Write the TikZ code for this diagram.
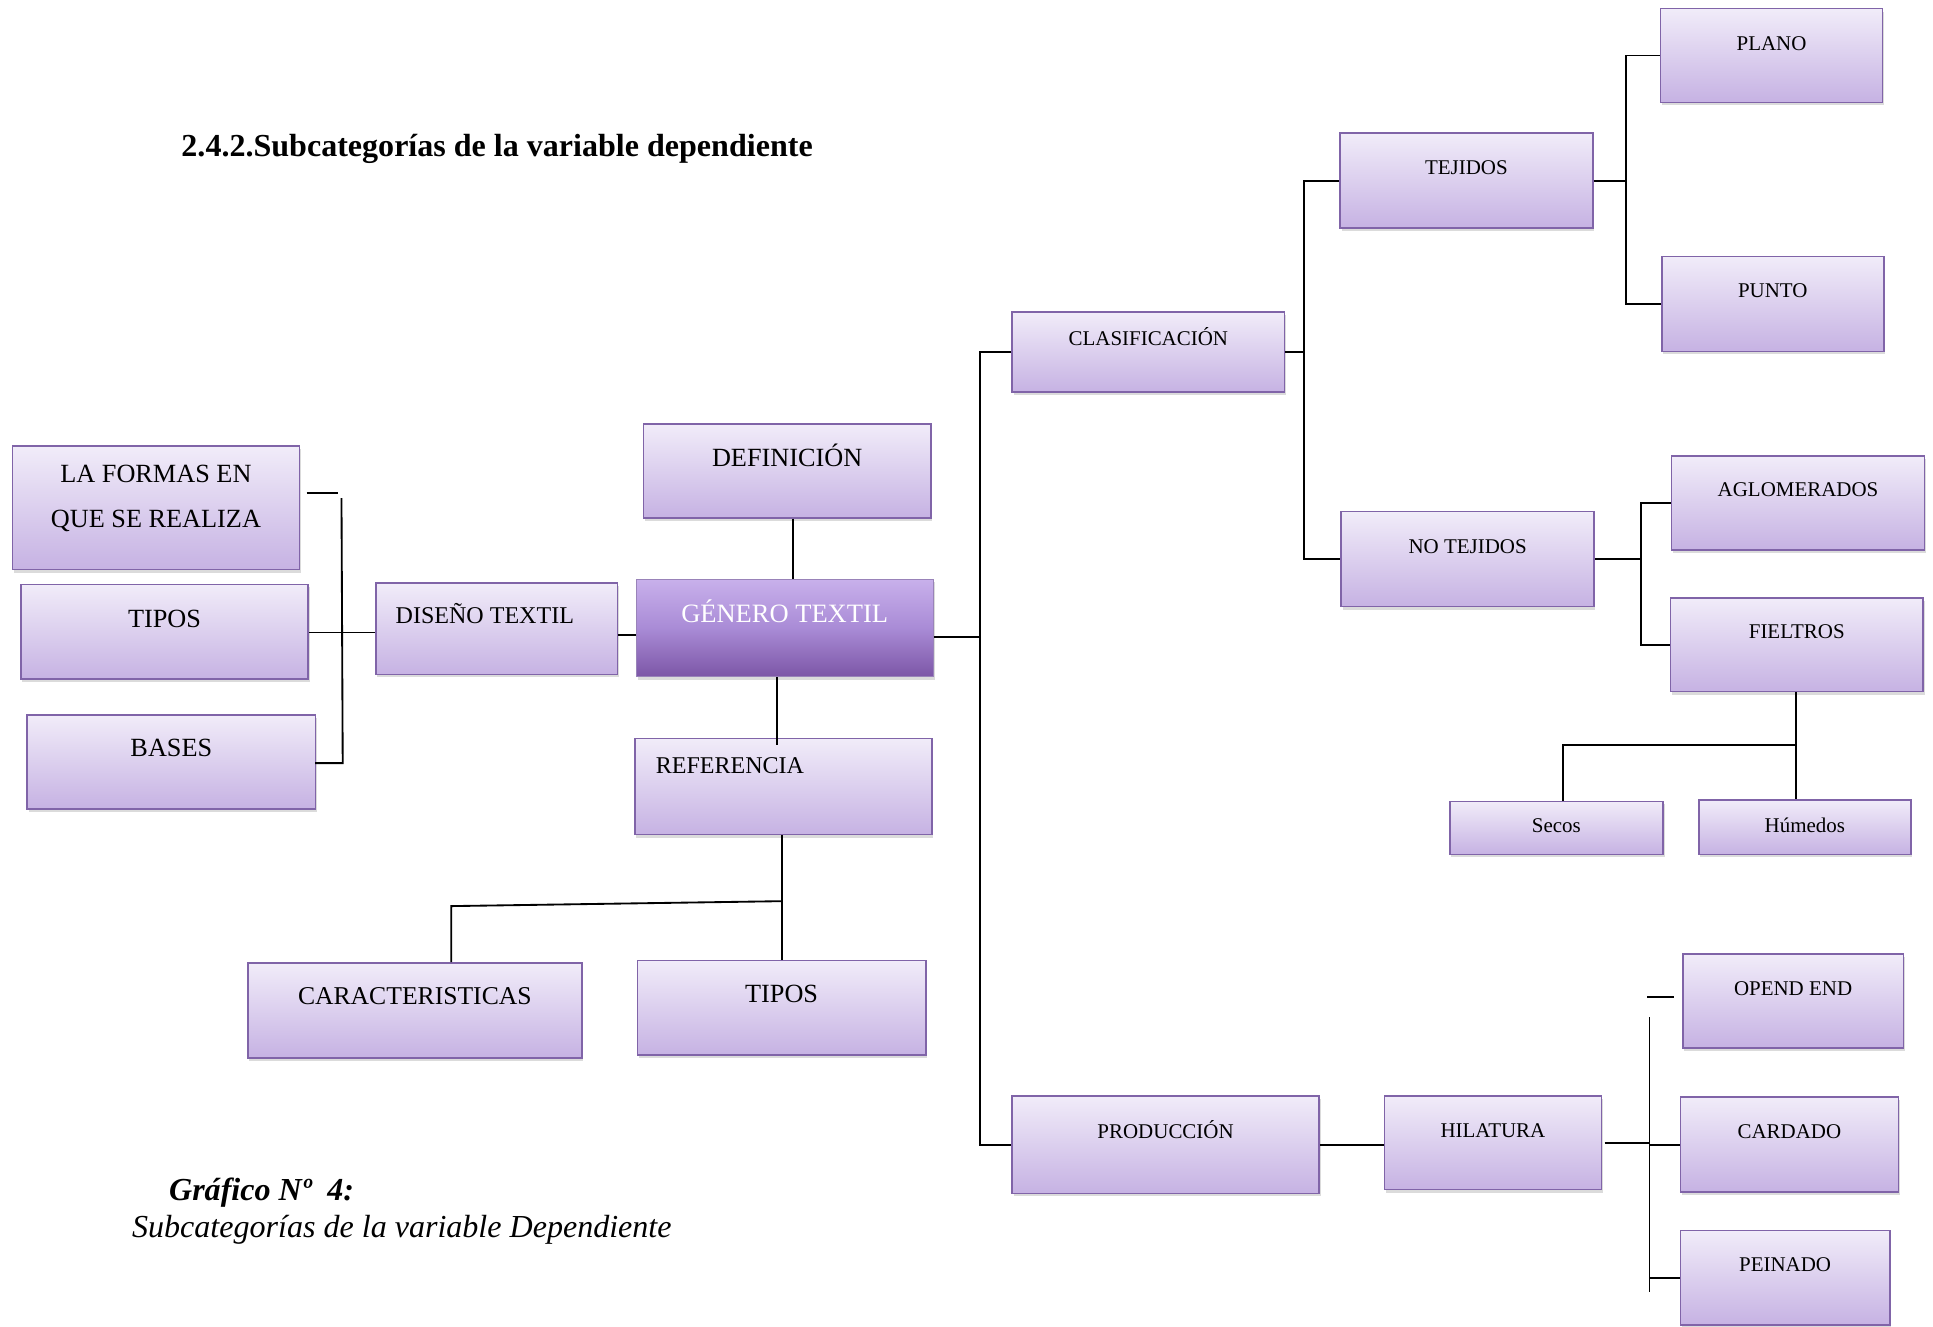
\documentclass[tikz,border=0pt]{standalone}
\usepackage{fontspec}
\setmainfont{Liberation Serif}
\usetikzlibrary{shadows,calc}
\definecolor{boxtop}{HTML}{F1ECF9}
\definecolor{boxbot}{HTML}{C6B2E3}
\definecolor{boxedge}{HTML}{8064A8}
\definecolor{maintop}{HTML}{C8B0EB}
\definecolor{mainmid}{HTML}{A98BD6}
\definecolor{mainbot}{HTML}{7C56A6}
\tikzset{
  pbox/.style={draw=boxedge, line width=1.3pt, top color=boxtop, bottom color=boxbot,
    inner sep=0pt, drop shadow={shadow xshift=1.2pt, shadow yshift=-2.5pt, opacity=0.28}},
  mainbox/.style={draw=boxedge!80, line width=1pt, top color=maintop, bottom color=mainbot,
    middle color=mainmid, text=white, inner sep=0pt,
    drop shadow={shadow xshift=1.2pt, shadow yshift=-2.5pt, opacity=0.28}},
  conn/.style={draw=black, line width=1.5pt}
}
% #1 style #2 name #3 x1 #4 y1 #5 x2 #6 y2 #7 text centre y #8 font size #9 text
\newcommand{\mybx}[9]{%
  \pgfmathsetmacro\bxw{#5-#3}%
  \pgfmathsetmacro\bxcx{(#3+#5)/2}%
  \pgfmathsetmacro\bxcy{(#4+#6)/2}%
  \pgfmathsetmacro\bxb{#7+0.33*#8}%
  \pgfmathsetmacro\bxth{\bxb-#4}%
  \pgfmathsetmacro\bxtd{#6-\bxb}%
  \node[#1, minimum width=\bxw pt, text height=\bxth pt, text depth=\bxtd pt,
        font=\fontsize{#8}{#8}\selectfont] (#2) at (\bxcx,\bxcy) {#9};%
}
\begin{document}
\begin{tikzpicture}[x=1pt,y=-1pt]
\useasboundingbox (0,0) rectangle (1568,1076);
\fill[white] (0,0) rectangle (1568,1076);

% title and caption
\node[anchor=base west, inner sep=0pt, font=\bfseries\fontsize{26}{26}\selectfont] (title) at (147,127) {2.4.2.Subcategorías de la variable dependiente};
\node[anchor=base west, inner sep=0pt, font=\bfseries\itshape\fontsize{26}{26}\selectfont] (cap1) at (137,974) {Gráfico Nº~ 4:};
\node[anchor=base west, inner sep=0pt, font=\itshape\fontsize{26}{26}\selectfont] (cap2) at (107,1004) {Subcategorías de la variable Dependiente};

% boxes
\mybx{pbox}{plano}{1347}{7}{1527}{83}{35}{17}{PLANO}
\mybx{pbox}{tej}{1087}{108}{1292}{185}{136}{17}{TEJIDOS}
\mybx{pbox}{punto}{1348}{208}{1528}{285}{236}{17}{PUNTO}
\mybx{pbox}{clas}{821}{253}{1042}{318}{275}{17}{CLASIFICACIÓN}
\mybx{pbox}{notej}{1088}{415}{1293}{492}{443}{17}{NO TEJIDOS}
\mybx{pbox}{aglo}{1356}{370}{1561}{446}{397}{17}{AGLOMERADOS}
\mybx{pbox}{fiel}{1355}{485}{1560}{561}{512}{17}{FIELTROS}
\mybx{pbox}{secos}{1176}{650}{1349}{693}{670}{17}{Secos}
\mybx{pbox}{hum}{1378}{649}{1550}{693}{670}{17}{Húmedos}
\mybx{pbox}{opend}{1365}{774}{1544}{850}{802}{17}{OPEND END}
\mybx{pbox}{card}{1363}{890}{1540}{967}{918}{17}{CARDADO}
\mybx{pbox}{pein}{1363}{998}{1533}{1075}{1026}{17}{PEINADO}
\mybx{pbox}{hila}{1123}{889}{1299}{965}{917}{17}{HILATURA}
\mybx{pbox}{prod}{821}{889}{1070}{968}{918}{17}{PRODUCCIÓN}
\mybx{pbox}{defi}{522}{344}{755}{420}{371}{21.3}{DEFINICIÓN}
\mybx{mainbox}{gen}{516}{470}{757}{549}{498}{21.5}{GÉNERO TEXTIL}
\mybx{pbox}{dis}{305}{473}{501}{547}{499}{19.5}{\makebox[196pt][l]{\hspace{16pt}DISEÑO TEXTIL}}
\mybx{pbox}{ref}{515}{599}{756}{677}{621}{19.5}{\makebox[241pt][l]{\hspace{17pt}REFERENCIA}}
\mybx{pbox}{carac}{201}{781}{472}{858}{808}{20.8}{CARACTERISTICAS}
\mybx{pbox}{tipb}{517}{779}{751}{856}{806}{21.3}{TIPOS}
\mybx{pbox}{lafor}{10}{362}{243}{462}{384}{21.3}{\begin{tabular}[t]{@{}c@{}}LA FORMAS EN\\[15.7pt]QUE SE REALIZA\end{tabular}}
\mybx{pbox}{tipl}{17}{474}{250}{551}{502}{21.3}{TIPOS}
\mybx{pbox}{bases}{22}{580}{256}{656}{607}{21.3}{BASES}

% junction coordinates
\coordinate (jLt) at (277,404);
\coordinate (jLb) at (278,619);
\coordinate (jR) at (634,731);
\coordinate (jC) at (366,735);
\coordinate (jF) at (1457,604);
\coordinate (jS) at (1268,604);
\coordinate (jHt) at (1338,825);
\coordinate (jHb) at (1338,1048);
\coordinate (oe1) at (1336,809);
\coordinate (oe2) at (1358,809);

% left group
\draw[conn] ([xshift=5pt]lafor.east |- 0,400) -- (274,400);
\draw[conn] (jLt) -- (jLb) -- ([xshift=-1pt]bases.east |- jLb);
\draw[conn] (tipl.east |- 0,513) -- (dis.west |- 0,513);
\draw[conn] (dis.east |- 0,515) -- (gen.west |- 0,515);

% centre
\draw[conn] (defi.south -| 643,0) -- (gen.north -| 643,0);
\draw[conn] (gen.south -| 630,0) -- ([yshift=-6pt]ref.north -| 630,0);
\draw[conn] (ref.south -| jR) -- (tipb.north -| jR);
\draw[conn] (jR) -- (jC) -- (carac.north -| jC);

% main bus
\draw[conn] (gen.east |- 0,517) -- (795,517);
\draw[conn] (clas.west) -- (clas.west -| 795,0) -- (prod.west -| 795,0) -- (prod.west);

% clasificacion
\draw[conn] (clas.east) -- (clas.east -| 1058,0);
\draw[conn] (tej.west) -- (tej.west -| 1058,0) -- (notej.west -| 1058,0) -- (notej.west);
\draw[conn] (tej.east) -- (tej.east -| 1319,0);
\draw[conn] (plano.west) -- (plano.west -| 1319,0) -- (punto.west -| 1319,0) -- (punto.west);
\draw[conn] (notej.east) -- (notej.east -| 1331,0);
\draw[conn] (aglo.west) -- (aglo.west -| 1331,0) -- (fiel.west -| 1331,0) -- (fiel.west);
\draw[conn] (fiel.south -| jF) -- (hum.north -| jF);
\draw[conn] (jF) -- (jS) -- (secos.north -| jS);

% produccion
\draw[conn] (prod.east) -- (hila.west |- prod.east);
\draw[conn] ([xshift=2pt]hila.east) -- (hila.east -| jHt);
\draw[conn] (jHt) -- (jHb);
\draw[conn] (card.west) -- (card.west -| jHt);
\draw[conn] (pein.west |- 0,1037) -- (jHt |- 0,1037);
\draw[conn] (oe1) -- (oe2);
\end{tikzpicture}
\end{document}
